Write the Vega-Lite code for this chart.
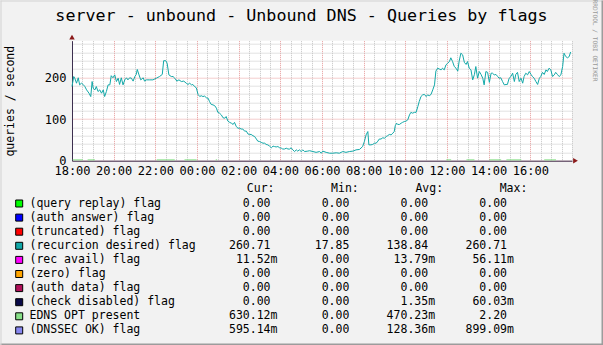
{
  "$schema": "https://vega.github.io/schema/vega-lite/v6.json",
  "width": 500,
  "height": 120,
  "autosize": {"type": "none"},
  "padding": {"left": 72, "top": 40.7, "right": 31, "bottom": 184.3},
  "background": "#f2f2f2",
  "title": {"text": "server - unbound - Unbound DNS - Queries by flags", "font": "DejaVu Sans Mono", "fontSize": 16.7, "fontWeight": "normal", "color": "#000000", "anchor": "middle", "frame": "group", "baseline": "alphabetic", "dx": -20.5, "offset": -40.2},
  "config": {"view": {"fill": "#ffffff", "stroke": null}, "font": "DejaVu Sans Mono"},
  "datasets": {
    "rd": [
      {"t":"2024-01-01T18:00","v":178},{"t":"2024-01-01T18:05","v":202},{"t":"2024-01-01T18:08","v":198},{"t":"2024-01-01T18:13","v":186},{"t":"2024-01-01T18:18","v":199},{"t":"2024-01-01T18:22","v":182},{"t":"2024-01-01T18:27","v":186},{"t":"2024-01-01T18:32","v":183},{"t":"2024-01-01T18:37","v":178},{"t":"2024-01-01T18:42","v":170},{"t":"2024-01-01T18:49","v":162},{"t":"2024-01-01T18:54","v":154},{"t":"2024-01-01T18:58","v":190},
      {"t":"2024-01-01T19:01","v":174},{"t":"2024-01-01T19:06","v":170},{"t":"2024-01-01T19:10","v":178},{"t":"2024-01-01T19:15","v":166},{"t":"2024-01-01T19:20","v":170},{"t":"2024-01-01T19:25","v":162},{"t":"2024-01-01T19:30","v":170},{"t":"2024-01-01T19:34","v":154},{"t":"2024-01-01T19:39","v":166},{"t":"2024-01-01T19:44","v":182},{"t":"2024-01-01T19:49","v":182},{"t":"2024-01-01T19:53","v":204},{"t":"2024-01-01T19:58","v":199},
      {"t":"2024-01-01T20:03","v":206},{"t":"2024-01-01T20:08","v":190},{"t":"2024-01-01T20:13","v":198},{"t":"2024-01-01T20:17","v":183},{"t":"2024-01-01T20:22","v":199},{"t":"2024-01-01T20:27","v":182},{"t":"2024-01-01T20:32","v":194},{"t":"2024-01-01T20:37","v":199},{"t":"2024-01-01T20:41","v":194},{"t":"2024-01-01T20:46","v":199},{"t":"2024-01-01T20:51","v":198},{"t":"2024-01-01T20:56","v":191},
      {"t":"2024-01-01T21:01","v":202},{"t":"2024-01-01T21:05","v":207},{"t":"2024-01-01T21:08","v":219},{"t":"2024-01-01T21:13","v":206},{"t":"2024-01-01T21:18","v":194},{"t":"2024-01-01T21:25","v":199},{"t":"2024-01-01T21:29","v":191},{"t":"2024-01-01T21:34","v":194},{"t":"2024-01-01T21:44","v":194},{"t":"2024-01-01T21:53","v":194},
      {"t":"2024-01-01T22:03","v":198},{"t":"2024-01-01T22:12","v":202},{"t":"2024-01-01T22:20","v":207},{"t":"2024-01-01T22:24","v":240},{"t":"2024-01-01T22:30","v":240},{"t":"2024-01-01T22:34","v":234},{"t":"2024-01-01T22:39","v":206},{"t":"2024-01-01T22:46","v":202},{"t":"2024-01-01T22:51","v":202},{"t":"2024-01-01T22:56","v":198},
      {"t":"2024-01-01T23:02","v":191},{"t":"2024-01-01T23:08","v":194},{"t":"2024-01-01T23:15","v":190},{"t":"2024-01-01T23:22","v":191},{"t":"2024-01-01T23:29","v":186},{"t":"2024-01-01T23:34","v":183},{"t":"2024-01-01T23:39","v":186},{"t":"2024-01-01T23:44","v":182},{"t":"2024-01-01T23:48","v":183},{"t":"2024-01-01T23:53","v":178},{"t":"2024-01-01T23:58","v":175},
      {"t":"2024-01-02T00:03","v":159},{"t":"2024-01-02T00:08","v":154},{"t":"2024-01-02T00:12","v":156},{"t":"2024-01-02T00:17","v":154},{"t":"2024-01-02T00:22","v":155},{"t":"2024-01-02T00:27","v":151},{"t":"2024-01-02T00:32","v":150},{"t":"2024-01-02T00:36","v":142},{"t":"2024-01-02T00:41","v":135},{"t":"2024-01-02T00:46","v":134},{"t":"2024-01-02T00:51","v":132},{"t":"2024-01-02T00:56","v":126},
      {"t":"2024-01-02T01:00","v":116},{"t":"2024-01-02T01:05","v":114},{"t":"2024-01-02T01:10","v":110},{"t":"2024-01-02T01:15","v":103},{"t":"2024-01-02T01:20","v":102},{"t":"2024-01-02T01:24","v":106},{"t":"2024-01-02T01:29","v":95},{"t":"2024-01-02T01:34","v":92},{"t":"2024-01-02T01:39","v":90},{"t":"2024-01-02T01:44","v":87},{"t":"2024-01-02T01:48","v":92},{"t":"2024-01-02T01:53","v":82},{"t":"2024-01-02T01:58","v":78},
      {"t":"2024-01-02T02:03","v":78},{"t":"2024-01-02T02:07","v":76},{"t":"2024-01-02T02:12","v":76},{"t":"2024-01-02T02:17","v":71},{"t":"2024-01-02T02:22","v":71},{"t":"2024-01-02T02:27","v":64},{"t":"2024-01-02T02:31","v":63},{"t":"2024-01-02T02:36","v":63},{"t":"2024-01-02T02:41","v":60},{"t":"2024-01-02T02:46","v":58},{"t":"2024-01-02T02:51","v":52},{"t":"2024-01-02T02:55","v":47},
      {"t":"2024-01-02T03:00","v":46},{"t":"2024-01-02T03:05","v":44},{"t":"2024-01-02T03:10","v":42},{"t":"2024-01-02T03:15","v":42},{"t":"2024-01-02T03:19","v":39},{"t":"2024-01-02T03:24","v":38},{"t":"2024-01-02T03:29","v":35},{"t":"2024-01-02T03:34","v":31},{"t":"2024-01-02T03:39","v":35},{"t":"2024-01-02T03:43","v":34},{"t":"2024-01-02T03:48","v":33},{"t":"2024-01-02T03:53","v":34},{"t":"2024-01-02T03:58","v":31},
      {"t":"2024-01-02T04:03","v":30},{"t":"2024-01-02T04:07","v":28},{"t":"2024-01-02T04:12","v":28},{"t":"2024-01-02T04:17","v":30},{"t":"2024-01-02T04:22","v":28},{"t":"2024-01-02T04:27","v":28},{"t":"2024-01-02T04:31","v":31},{"t":"2024-01-02T04:36","v":26},{"t":"2024-01-02T04:41","v":22},{"t":"2024-01-02T04:46","v":26},{"t":"2024-01-02T04:50","v":23},{"t":"2024-01-02T04:55","v":26},
      {"t":"2024-01-02T05:00","v":22},{"t":"2024-01-02T05:05","v":26},{"t":"2024-01-02T05:10","v":22},{"t":"2024-01-02T05:19","v":23},{"t":"2024-01-02T05:24","v":24},{"t":"2024-01-02T05:34","v":22},{"t":"2024-01-02T05:43","v":20},{"t":"2024-01-02T05:53","v":22},{"t":"2024-01-02T05:58","v":18},
      {"t":"2024-01-02T06:02","v":23},{"t":"2024-01-02T06:12","v":20},{"t":"2024-01-02T06:22","v":18},{"t":"2024-01-02T06:31","v":18},{"t":"2024-01-02T06:41","v":19},{"t":"2024-01-02T06:50","v":18},{"t":"2024-01-02T06:55","v":20},
      {"t":"2024-01-02T07:00","v":22},{"t":"2024-01-02T07:09","v":20},{"t":"2024-01-02T07:19","v":22},{"t":"2024-01-02T07:29","v":23},{"t":"2024-01-02T07:38","v":26},{"t":"2024-01-02T07:48","v":27},{"t":"2024-01-02T07:57","v":34},
      {"t":"2024-01-02T08:02","v":46},{"t":"2024-01-02T08:07","v":62},{"t":"2024-01-02T08:12","v":70},{"t":"2024-01-02T08:15","v":38},{"t":"2024-01-02T08:21","v":38},{"t":"2024-01-02T08:26","v":39},{"t":"2024-01-02T08:31","v":42},{"t":"2024-01-02T08:36","v":42},{"t":"2024-01-02T08:41","v":47},{"t":"2024-01-02T08:45","v":52},{"t":"2024-01-02T08:50","v":52},{"t":"2024-01-02T08:55","v":55},
      {"t":"2024-01-02T09:00","v":54},{"t":"2024-01-02T09:05","v":58},{"t":"2024-01-02T09:09","v":60},{"t":"2024-01-02T09:14","v":63},{"t":"2024-01-02T09:19","v":62},{"t":"2024-01-02T09:24","v":66},{"t":"2024-01-02T09:28","v":70},{"t":"2024-01-02T09:31","v":84},{"t":"2024-01-02T09:35","v":90},{"t":"2024-01-02T09:38","v":87},{"t":"2024-01-02T09:43","v":87},{"t":"2024-01-02T09:48","v":90},{"t":"2024-01-02T09:52","v":92},{"t":"2024-01-02T09:57","v":94},
      {"t":"2024-01-02T10:02","v":95},{"t":"2024-01-02T10:07","v":98},{"t":"2024-01-02T10:12","v":110},{"t":"2024-01-02T10:16","v":116},{"t":"2024-01-02T10:21","v":114},{"t":"2024-01-02T10:26","v":116},{"t":"2024-01-02T10:31","v":116},{"t":"2024-01-02T10:36","v":130},{"t":"2024-01-02T10:40","v":142},{"t":"2024-01-02T10:45","v":154},{"t":"2024-01-02T10:50","v":158},{"t":"2024-01-02T10:55","v":159},
      {"t":"2024-01-02T11:00","v":154},{"t":"2024-01-02T11:04","v":158},{"t":"2024-01-02T11:09","v":156},{"t":"2024-01-02T11:14","v":159},{"t":"2024-01-02T11:19","v":170},{"t":"2024-01-02T11:24","v":182},{"t":"2024-01-02T11:28","v":215},{"t":"2024-01-02T11:33","v":222},{"t":"2024-01-02T11:38","v":220},{"t":"2024-01-02T11:43","v":218},{"t":"2024-01-02T11:47","v":222},{"t":"2024-01-02T11:52","v":218},{"t":"2024-01-02T11:57","v":230},
      {"t":"2024-01-02T12:02","v":234},{"t":"2024-01-02T12:07","v":238},{"t":"2024-01-02T12:11","v":247},{"t":"2024-01-02T12:16","v":238},{"t":"2024-01-02T12:21","v":226},{"t":"2024-01-02T12:26","v":222},{"t":"2024-01-02T12:31","v":215},{"t":"2024-01-02T12:35","v":239},{"t":"2024-01-02T12:40","v":258},{"t":"2024-01-02T12:45","v":254},{"t":"2024-01-02T12:50","v":236},{"t":"2024-01-02T12:55","v":231},{"t":"2024-01-02T12:59","v":238},
      {"t":"2024-01-02T13:04","v":222},{"t":"2024-01-02T13:09","v":218},{"t":"2024-01-02T13:14","v":194},{"t":"2024-01-02T13:19","v":207},{"t":"2024-01-02T13:23","v":226},{"t":"2024-01-02T13:28","v":198},{"t":"2024-01-02T13:33","v":214},{"t":"2024-01-02T13:38","v":207},{"t":"2024-01-02T13:43","v":198},{"t":"2024-01-02T13:47","v":182},{"t":"2024-01-02T13:52","v":214},{"t":"2024-01-02T13:57","v":212},
      {"t":"2024-01-02T14:02","v":188},{"t":"2024-01-02T14:07","v":210},{"t":"2024-01-02T14:11","v":210},{"t":"2024-01-02T14:16","v":206},{"t":"2024-01-02T14:21","v":207},{"t":"2024-01-02T14:26","v":202},{"t":"2024-01-02T14:30","v":198},{"t":"2024-01-02T14:35","v":199},{"t":"2024-01-02T14:40","v":190},{"t":"2024-01-02T14:45","v":182},{"t":"2024-01-02T14:50","v":183},{"t":"2024-01-02T14:54","v":183},{"t":"2024-01-02T14:59","v":198},
      {"t":"2024-01-02T15:04","v":202},{"t":"2024-01-02T15:09","v":210},{"t":"2024-01-02T15:14","v":190},{"t":"2024-01-02T15:18","v":207},{"t":"2024-01-02T15:23","v":212},{"t":"2024-01-02T15:28","v":190},{"t":"2024-01-02T15:33","v":198},{"t":"2024-01-02T15:38","v":186},{"t":"2024-01-02T15:42","v":202},{"t":"2024-01-02T15:47","v":210},{"t":"2024-01-02T15:52","v":206},{"t":"2024-01-02T15:57","v":214},
      {"t":"2024-01-02T16:02","v":207},{"t":"2024-01-02T16:06","v":202},{"t":"2024-01-02T16:11","v":198},{"t":"2024-01-02T16:16","v":190},{"t":"2024-01-02T16:21","v":183},{"t":"2024-01-02T16:26","v":198},{"t":"2024-01-02T16:30","v":202},{"t":"2024-01-02T16:35","v":212},{"t":"2024-01-02T16:40","v":207},{"t":"2024-01-02T16:45","v":218},{"t":"2024-01-02T16:49","v":214},{"t":"2024-01-02T16:54","v":222},{"t":"2024-01-02T16:59","v":218},
      {"t":"2024-01-02T17:04","v":202},{"t":"2024-01-02T17:09","v":206},{"t":"2024-01-02T17:13","v":212},{"t":"2024-01-02T17:18","v":207},{"t":"2024-01-02T17:23","v":202},{"t":"2024-01-02T17:28","v":206},{"t":"2024-01-02T17:33","v":226},{"t":"2024-01-02T17:37","v":258},{"t":"2024-01-02T17:42","v":250},{"t":"2024-01-02T17:47","v":247},{"t":"2024-01-02T17:52","v":250},{"t":"2024-01-02T17:56","v":261}
    ],
    "edns": [
      {"t":"2024-01-01T18:02","v":2,"g":1},{"t":"2024-01-01T18:31","v":2,"g":1},
      {"t":"2024-01-01T18:45","v":2,"g":2},{"t":"2024-01-01T19:06","v":2,"g":2},
      {"t":"2024-01-01T22:04","v":2,"g":3},{"t":"2024-01-01T22:56","v":2,"g":3},
      {"t":"2024-01-01T23:24","v":2,"g":4},{"t":"2024-01-01T23:59","v":2,"g":4},
      {"t":"2024-01-02T00:54","v":2,"g":5},{"t":"2024-01-02T00:58","v":2,"g":5},
      {"t":"2024-01-02T11:58","v":2,"g":6},{"t":"2024-01-02T12:12","v":2,"g":6},
      {"t":"2024-01-02T12:56","v":2,"g":7},{"t":"2024-01-02T13:19","v":2,"g":7},
      {"t":"2024-01-02T14:02","v":2,"g":8},{"t":"2024-01-02T14:36","v":2,"g":8},
      {"t":"2024-01-02T14:51","v":2,"g":9},{"t":"2024-01-02T15:34","v":2,"g":9},
      {"t":"2024-01-02T16:40","v":2,"g":10},{"t":"2024-01-02T17:14","v":2,"g":10}
    ],
    "tbl": [
      {"series":"(query replay) flag","cur":"0.00","min":"0.00","avg":"0.00","max":"0.00","curU":"","minU":"","avgU":"","maxU":""},
      {"series":"(auth answer) flag","cur":"0.00","min":"0.00","avg":"0.00","max":"0.00","curU":"","minU":"","avgU":"","maxU":""},
      {"series":"(truncated) flag","cur":"0.00","min":"0.00","avg":"0.00","max":"0.00","curU":"","minU":"","avgU":"","maxU":""},
      {"series":"(recurcion desired) flag","cur":"260.71","min":"17.85","avg":"138.84","max":"260.71","curU":"","minU":"","avgU":"","maxU":""},
      {"series":"(rec avail) flag","cur":"11.52","min":"0.00","avg":"13.79","max":"56.11","curU":"m","minU":"","avgU":"m","maxU":"m"},
      {"series":"(zero) flag","cur":"0.00","min":"0.00","avg":"0.00","max":"0.00","curU":"","minU":"","avgU":"","maxU":""},
      {"series":"(auth data) flag","cur":"0.00","min":"0.00","avg":"0.00","max":"0.00","curU":"","minU":"","avgU":"","maxU":""},
      {"series":"(check disabled) flag","cur":"0.00","min":"0.00","avg":"1.35","max":"60.03","curU":"","minU":"","avgU":"m","maxU":"m"},
      {"series":"EDNS OPT present","cur":"630.12","min":"0.00","avg":"470.23","max":"2.20","curU":"m","minU":"","avgU":"m","maxU":""},
      {"series":"(DNSSEC OK) flag","cur":"595.14","min":"0.00","avg":"128.36","max":"899.09","curU":"m","minU":"","avgU":"m","maxU":"m"}
    ]
  },
  "layer": [
    {
      "data": {"name": "rd"},
      "mark": {"type": "line", "strokeWidth": 1},
      "encoding": {
        "x": {"field": "t", "type": "temporal",
          "scale": {"domain": [{"year": 2024, "month": 1, "date": 1, "hours": 18}, {"year": 2024, "month": 1, "date": 2, "hours": 18}]},
          "axis": {"orient": "bottom",
            "values": [
              {"year":2024,"month":1,"date":1,"hours":18},{"year":2024,"month":1,"date":1,"hours":20},{"year":2024,"month":1,"date":1,"hours":22},
              {"year":2024,"month":1,"date":2,"hours":0},{"year":2024,"month":1,"date":2,"hours":2},{"year":2024,"month":1,"date":2,"hours":4},
              {"year":2024,"month":1,"date":2,"hours":6},{"year":2024,"month":1,"date":2,"hours":8},{"year":2024,"month":1,"date":2,"hours":10},
              {"year":2024,"month":1,"date":2,"hours":12},{"year":2024,"month":1,"date":2,"hours":14},{"year":2024,"month":1,"date":2,"hours":16}
            ],
            "format": "%H:%M",
            "labelFont": "DejaVu Sans Mono", "labelFontSize": 12, "labelColor": "#000000", "labelPadding": 5, "labelOverlap": false, "labelFlush": false,
            "ticks": false, "domainColor": "#3d3050", "domainWidth": 1,
            "grid": true, "gridColor": "#e79a9a", "gridDash": [1, 1], "gridWidth": 1, "gridOpacity": 1, "title": null}},
        "y": {"field": "v", "type": "quantitative",
          "scale": {"domain": [0, 288], "nice": false},
          "axis": {"orient": "left", "values": [0, 100, 200],
            "labelFont": "DejaVu Sans Mono", "labelFontSize": 12, "labelColor": "#000000", "labelPadding": 6,
            "ticks": false, "domainColor": "#3d3050", "domainWidth": 1,
            "grid": true, "gridColor": "#e79a9a", "gridDash": [1, 1], "gridWidth": 1, "gridOpacity": 1,
            "title": "queries / second", "titleFont": "DejaVu Sans Mono", "titleFontSize": 11.5, "titleFontWeight": "normal", "titleColor": "#000000",
            "titleAngle": 270, "titleX": -59, "titleY": 60, "titleAlign": "center", "titleBaseline": "alphabetic"}},
        "color": {"datum": "(recurcion desired) flag", "type": "nominal",
          "scale": {"domain": ["(query replay) flag", "(auth answer) flag", "(truncated) flag", "(recurcion desired) flag", "(rec avail) flag", "(zero) flag", "(auth data) flag", "(check disabled) flag", "EDNS OPT present", "(DNSSEC OK) flag"],
            "range": ["#00ff00", "#0000ff", "#ff0000", "#12a8a8", "#ff00ff", "#ffa500", "#b0105a", "#0a0a48", "#88e088", "#8888f0"]},
          "legend": null}
      }
    },
    {
      "data": {"name": "edns"},
      "mark": {"type": "line", "strokeWidth": 1},
      "encoding": {
        "x": {"field": "t", "type": "temporal",
          "scale": {"domain": [{"year": 2024, "month": 1, "date": 1, "hours": 18}, {"year": 2024, "month": 1, "date": 2, "hours": 18}]},
          "axis": {"orient": "bottom",
            "values": [
              {"year":2024,"month":1,"date":1,"hours":18,"minutes":30},{"year":2024,"month":1,"date":1,"hours":19},{"year":2024,"month":1,"date":1,"hours":19,"minutes":30},
              {"year":2024,"month":1,"date":1,"hours":20,"minutes":30},{"year":2024,"month":1,"date":1,"hours":21},{"year":2024,"month":1,"date":1,"hours":21,"minutes":30},
              {"year":2024,"month":1,"date":1,"hours":22,"minutes":30},{"year":2024,"month":1,"date":1,"hours":23},{"year":2024,"month":1,"date":1,"hours":23,"minutes":30},
              {"year":2024,"month":1,"date":2,"hours":0,"minutes":30},{"year":2024,"month":1,"date":2,"hours":1},{"year":2024,"month":1,"date":2,"hours":1,"minutes":30},
              {"year":2024,"month":1,"date":2,"hours":2,"minutes":30},{"year":2024,"month":1,"date":2,"hours":3},{"year":2024,"month":1,"date":2,"hours":3,"minutes":30},
              {"year":2024,"month":1,"date":2,"hours":4,"minutes":30},{"year":2024,"month":1,"date":2,"hours":5},{"year":2024,"month":1,"date":2,"hours":5,"minutes":30},
              {"year":2024,"month":1,"date":2,"hours":6,"minutes":30},{"year":2024,"month":1,"date":2,"hours":7},{"year":2024,"month":1,"date":2,"hours":7,"minutes":30},
              {"year":2024,"month":1,"date":2,"hours":8,"minutes":30},{"year":2024,"month":1,"date":2,"hours":9},{"year":2024,"month":1,"date":2,"hours":9,"minutes":30},
              {"year":2024,"month":1,"date":2,"hours":10,"minutes":30},{"year":2024,"month":1,"date":2,"hours":11},{"year":2024,"month":1,"date":2,"hours":11,"minutes":30},
              {"year":2024,"month":1,"date":2,"hours":12,"minutes":30},{"year":2024,"month":1,"date":2,"hours":13},{"year":2024,"month":1,"date":2,"hours":13,"minutes":30},
              {"year":2024,"month":1,"date":2,"hours":14,"minutes":30},{"year":2024,"month":1,"date":2,"hours":15},{"year":2024,"month":1,"date":2,"hours":15,"minutes":30},
              {"year":2024,"month":1,"date":2,"hours":16,"minutes":30},{"year":2024,"month":1,"date":2,"hours":17},{"year":2024,"month":1,"date":2,"hours":17,"minutes":30},
              {"year":2024,"month":1,"date":2,"hours":18}
            ],
            "labels": false, "ticks": false, "domain": false,
            "grid": true, "gridColor": "#c4c4c4", "gridDash": [1, 1], "gridWidth": 1, "gridOpacity": 1, "title": null}},
        "y": {"field": "v", "type": "quantitative",
          "scale": {"domain": [0, 288], "nice": false},
          "axis": {"orient": "left", "values": [20, 40, 60, 80, 120, 140, 160, 180, 220, 240, 260, 280],
            "labels": false, "ticks": false, "domain": false,
            "grid": true, "gridColor": "#c4c4c4", "gridDash": [1, 1], "gridWidth": 1, "gridOpacity": 1, "title": null}},
        "detail": {"field": "g"},
        "color": {"datum": "EDNS OPT present", "type": "nominal", "legend": null}
      }
    },
    {
      "data": {"values": [{"t": "2024-01-02T18:00", "v": 0}]},
      "mark": {"type": "point", "shape": "triangle-right", "filled": true, "size": 30, "opacity": 1, "color": "#8b1a1a", "xOffset": 3.5},
      "encoding": {
        "x": {"field": "t", "type": "temporal", "scale": {"domain": [{"year": 2024, "month": 1, "date": 1, "hours": 18}, {"year": 2024, "month": 1, "date": 2, "hours": 18}]}, "axis": null},
        "y": {"field": "v", "type": "quantitative", "scale": {"domain": [0, 288], "nice": false}, "axis": null}
      }
    },
    {
      "data": {"values": [{"t": "2024-01-01T18:00", "v": 288}]},
      "mark": {"type": "point", "shape": "triangle-up", "filled": true, "size": 30, "opacity": 1, "color": "#8b1a1a", "yOffset": -3.5},
      "encoding": {
        "x": {"field": "t", "type": "temporal", "scale": {"domain": [{"year": 2024, "month": 1, "date": 1, "hours": 18}, {"year": 2024, "month": 1, "date": 2, "hours": 18}]}, "axis": null},
        "y": {"field": "v", "type": "quantitative", "scale": {"domain": [0, 288], "nice": false}, "axis": null}
      }
    },
    {
      "data": {"values": [{"f": 1}]},
      "mark": {"type": "point", "opacity": 0},
      "encoding": {
        "x": {"datum": "L", "type": "nominal", "scale": {"type": "point", "domain": ["L", "R"], "range": [-72, 531], "padding": 0},
          "axis": {"orient": "bottom", "offset": 183.3, "domain": true, "domainColor": "#9c9c9c", "domainWidth": 2, "labels": false, "ticks": false, "grid": false, "title": null}},
        "y": {"datum": "T", "type": "nominal", "scale": {"type": "point", "domain": ["T", "B"], "range": [-40.7, 304.3], "padding": 0},
          "axis": {"orient": "right", "offset": 30, "domain": true, "domainColor": "#9c9c9c", "domainWidth": 2, "labels": false, "ticks": false, "grid": false, "title": null}}
      }
    },
    {
      "data": {"values": [{"f": 1}]},
      "mark": {"type": "point", "opacity": 0},
      "encoding": {
        "x": {"datum": "L", "type": "nominal", "scale": {"type": "point", "domain": ["L", "R"], "range": [-72, 531], "padding": 0},
          "axis": {"orient": "top", "offset": 40.2, "domain": true, "domainColor": "#d2d2d2", "domainWidth": 1, "labels": false, "ticks": false, "grid": false, "title": null}},
        "y": {"datum": "T", "type": "nominal", "scale": {"type": "point", "domain": ["T", "B"], "range": [-40.7, 304.3], "padding": 0},
          "axis": {"orient": "left", "offset": 71.5, "domain": true, "domainColor": "#d2d2d2", "domainWidth": 1, "labels": false, "ticks": false, "grid": false, "title": null}}
      }
    },
    {
      "data": {"name": "tbl"},
      "mark": {"type": "square", "size": 49, "filled": true, "opacity": 1, "stroke": "#000000", "strokeWidth": 1},
      "encoding": {
        "x": {"datum": "swatch", "type": "nominal", "scale": {"type": "point", "domain": ["swatch", "label"], "range": [-52.8, -42.5], "padding": 0}, "axis": null},
        "y": {"field": "series", "type": "nominal",
          "scale": {"type": "point", "domain": ["hdr", "(query replay) flag", "(auth answer) flag", "(truncated) flag", "(recurcion desired) flag", "(rec avail) flag", "(zero) flag", "(auth data) flag", "(check disabled) flag", "EDNS OPT present", "(DNSSEC OK) flag"], "range": [148.7, 289.7], "padding": 0},
          "axis": {"orient": "right", "domain": false, "ticks": false, "labels": false, "grid": false,
            "title": "RRDTOOL / TOBI OETIKER", "titleFont": "DejaVu Sans Mono", "titleFontSize": 6.2, "titleFontWeight": "normal", "titleColor": "#999999",
            "titleAngle": 90, "titleX": 22, "titleY": -0.7, "titleAlign": "center", "titleBaseline": "middle"}},
        "color": {"field": "series", "type": "nominal", "legend": null}
      }
    },
    {
      "data": {"name": "tbl"},
      "mark": {"type": "text", "align": "left", "baseline": "middle", "fontSize": 11.5, "color": "#000000", "font": "DejaVu Sans Mono"},
      "encoding": {
        "x": {"datum": "label", "type": "nominal", "scale": {"type": "point", "domain": ["swatch", "label"], "range": [-52.8, -42.5], "padding": 0}, "axis": null},
        "y": {"field": "series", "type": "nominal",
          "scale": {"type": "point", "domain": ["hdr", "(query replay) flag", "(auth answer) flag", "(truncated) flag", "(recurcion desired) flag", "(rec avail) flag", "(zero) flag", "(auth data) flag", "(check disabled) flag", "EDNS OPT present", "(DNSSEC OK) flag"], "range": [148.7, 289.7], "padding": 0},
          "axis": null},
        "text": {"field": "series"}
      }
    },
    {
      "data": {"name": "tbl"},
      "transform": [{"fold": ["cur", "min", "avg", "max"], "as": ["col", "val"]}],
      "mark": {"type": "text", "align": "right", "baseline": "middle", "fontSize": 11.5, "color": "#000000", "font": "DejaVu Sans Mono"},
      "encoding": {
        "x": {"field": "col", "type": "nominal", "scale": {"type": "point", "domain": ["cur", "min", "avg", "max"], "range": [198.5, 435], "padding": 0}, "axis": null},
        "y": {"field": "series", "type": "nominal",
          "scale": {"type": "point", "domain": ["hdr", "(query replay) flag", "(auth answer) flag", "(truncated) flag", "(recurcion desired) flag", "(rec avail) flag", "(zero) flag", "(auth data) flag", "(check disabled) flag", "EDNS OPT present", "(DNSSEC OK) flag"], "range": [148.7, 289.7], "padding": 0},
          "axis": null},
        "text": {"field": "val"}
      }
    },
    {
      "data": {"name": "tbl"},
      "transform": [{"fold": ["curU", "minU", "avgU", "maxU"], "as": ["col", "val"]}],
      "mark": {"type": "text", "align": "left", "baseline": "middle", "fontSize": 11.5, "color": "#000000", "font": "DejaVu Sans Mono"},
      "encoding": {
        "x": {"field": "col", "type": "nominal", "scale": {"type": "point", "domain": ["curU", "minU", "avgU", "maxU"], "range": [198.5, 435], "padding": 0}, "axis": null},
        "y": {"field": "series", "type": "nominal",
          "scale": {"type": "point", "domain": ["hdr", "(query replay) flag", "(auth answer) flag", "(truncated) flag", "(recurcion desired) flag", "(rec avail) flag", "(zero) flag", "(auth data) flag", "(check disabled) flag", "EDNS OPT present", "(DNSSEC OK) flag"], "range": [148.7, 289.7], "padding": 0},
          "axis": null},
        "text": {"field": "val"}
      }
    },
    {
      "data": {"values": [{"h": "Cur:"}, {"h": "Min:"}, {"h": "Avg:"}, {"h": "Max:"}]},
      "mark": {"type": "text", "align": "left", "baseline": "middle", "fontSize": 11.5, "color": "#000000", "font": "DejaVu Sans Mono"},
      "encoding": {
        "x": {"field": "h", "type": "nominal", "scale": {"type": "point", "domain": ["Cur:", "Min:", "Avg:", "Max:"], "range": [174.8, 427.7], "padding": 0}, "axis": null},
        "y": {"datum": "hdr", "type": "nominal",
          "scale": {"type": "point", "domain": ["hdr", "(query replay) flag", "(auth answer) flag", "(truncated) flag", "(recurcion desired) flag", "(rec avail) flag", "(zero) flag", "(auth data) flag", "(check disabled) flag", "EDNS OPT present", "(DNSSEC OK) flag"], "range": [148.7, 289.7], "padding": 0},
          "axis": null},
        "text": {"field": "h"}
      }
    }
  ],
  "resolve": {"scale": {"x": "independent", "y": "independent"}}
}
